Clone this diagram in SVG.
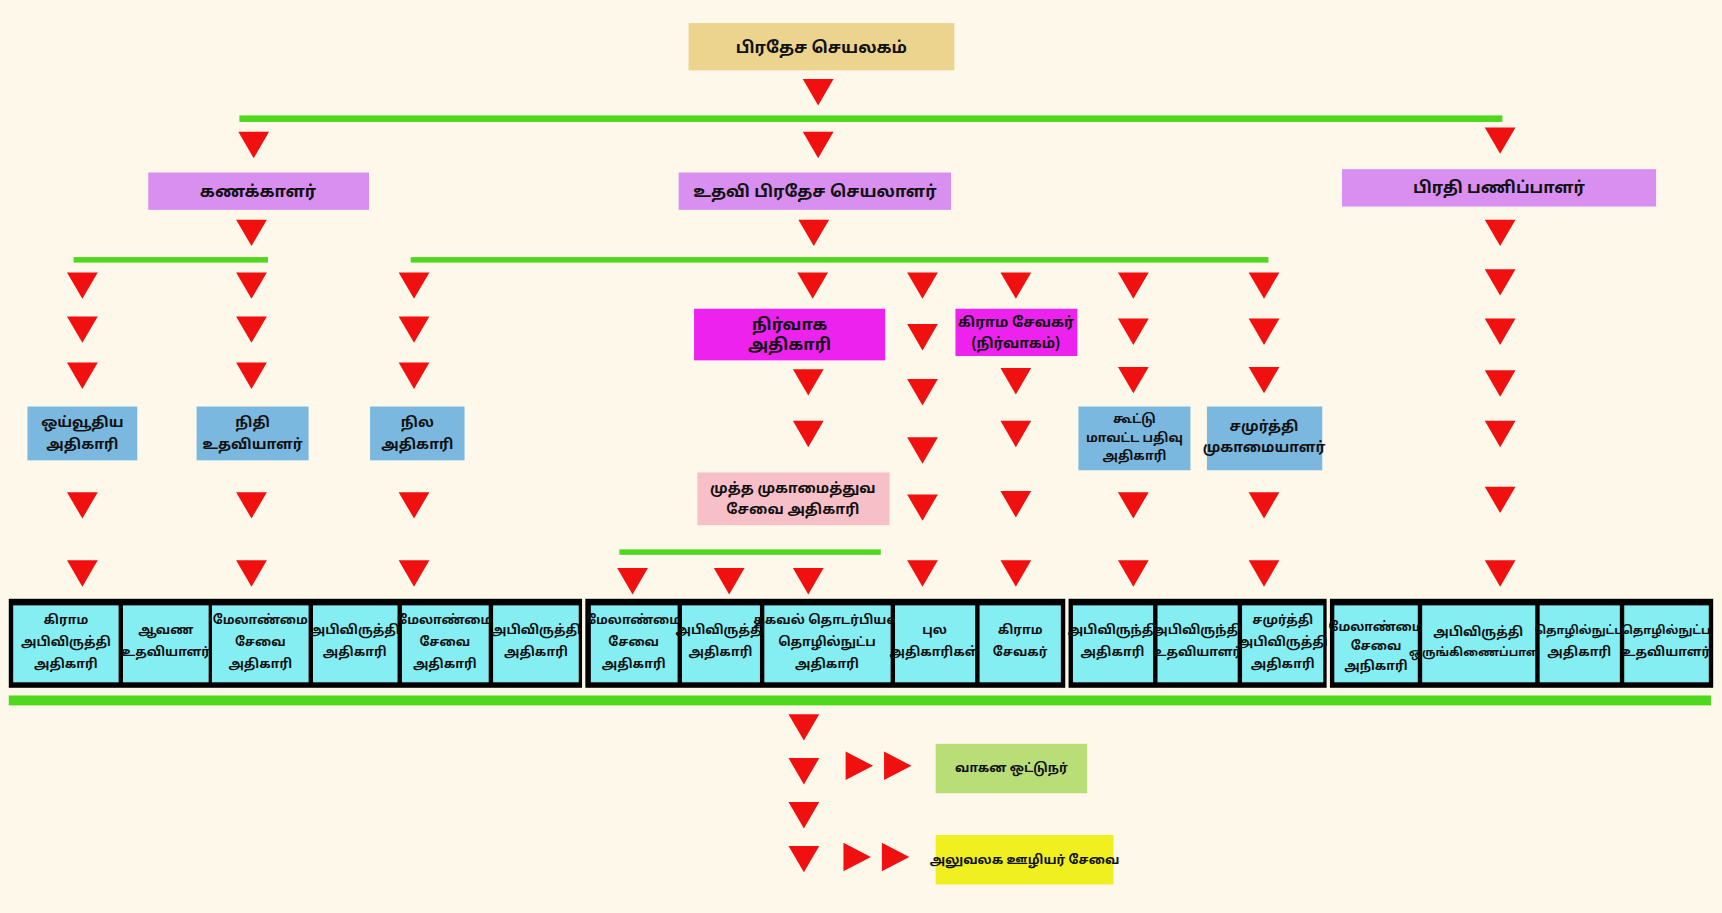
<svg xmlns="http://www.w3.org/2000/svg" xmlns:xlink="http://www.w3.org/1999/xlink" width="1722" height="913" viewBox="0 0 1722 913">
<style>
.t{font-family:"Noto Sans Tamil","Noto Sans","Liberation Sans",sans-serif;font-weight:bold;fill:#111;text-anchor:middle}
.h{font-size:15px}.m{font-size:13px}.s{font-size:11.5px}.xs{font-size:10.5px}
.g{fill:#4fd81e}
.tri{fill:#f01010}
.cell{fill:#84eef2}
</style>
<defs>
<path id="d" class="tri" d="M-14,0 L14,0 L0,24 Z"/>
<path id="r" class="tri" d="M0,-13 L0,13 L25,0 Z"/>
</defs>
<rect width="1722" height="913" fill="#fdf8ea"/>
<g transform="scale(1.0982,1.0987)">
<g id="connectors">
<rect class="g" x="218" y="105" width="1150" height="6"/>
<rect class="g" x="67" y="234" width="177" height="5"/>
<rect class="g" x="374" y="234" width="781" height="5"/>
<rect class="g" x="564" y="500" width="238" height="5"/>
<rect class="g" x="8" y="633" width="1550" height="9"/>
<use href="#d" x="745" y="72"/>
<use href="#d" x="231" y="120"/><use href="#d" x="745" y="120"/><use href="#d" x="1366" y="116"/>
<use href="#d" x="229" y="200"/><use href="#d" x="741" y="200"/>
<use href="#d" x="75" y="248"/><use href="#d" x="75" y="288"/><use href="#d" x="75" y="330"/><use href="#d" x="75" y="448"/><use href="#d" x="75" y="510"/>
<use href="#d" x="229" y="248"/><use href="#d" x="229" y="288"/><use href="#d" x="229" y="330"/><use href="#d" x="229" y="448"/><use href="#d" x="229" y="510"/>
<use href="#d" x="377" y="248"/><use href="#d" x="377" y="288"/><use href="#d" x="377" y="330"/><use href="#d" x="377" y="448"/><use href="#d" x="377" y="510"/>
<use href="#d" x="740" y="248"/><use href="#d" x="736" y="336"/><use href="#d" x="736" y="383"/>
<use href="#d" x="576" y="517"/><use href="#d" x="664" y="517"/><use href="#d" x="736" y="517"/>
<use href="#d" x="840" y="248"/><use href="#d" x="840" y="295"/><use href="#d" x="840" y="345"/><use href="#d" x="840" y="398"/><use href="#d" x="840" y="450"/><use href="#d" x="840" y="510"/>
<use href="#d" x="925" y="248"/><use href="#d" x="925" y="335"/><use href="#d" x="925" y="383"/><use href="#d" x="925" y="447"/><use href="#d" x="925" y="510"/>
<use href="#d" x="1032" y="248"/><use href="#d" x="1032" y="290"/><use href="#d" x="1032" y="334"/><use href="#d" x="1032" y="448"/><use href="#d" x="1032" y="510"/>
<use href="#d" x="1151" y="248"/><use href="#d" x="1151" y="290"/><use href="#d" x="1151" y="334"/><use href="#d" x="1151" y="448"/><use href="#d" x="1151" y="510"/>
<use href="#d" x="1366" y="200"/><use href="#d" x="1366" y="245"/><use href="#d" x="1366" y="290"/><use href="#d" x="1366" y="337"/><use href="#d" x="1366" y="383"/><use href="#d" x="1366" y="443"/><use href="#d" x="1366" y="510"/>
<use href="#d" x="732" y="650"/><use href="#d" x="732" y="690"/><use href="#d" x="732" y="730"/><use href="#d" x="732" y="770"/>
<use href="#r" x="770" y="697"/><use href="#r" x="805" y="697"/>
<use href="#r" x="768" y="780"/><use href="#r" x="803" y="780"/>
</g>
<g id="n-top"><rect x="627" y="21" width="242" height="43" fill="#ecd48f"/><text class="t h" x="748" y="48">பிரதேச செயலகம்</text></g>
<g id="n-acc"><rect x="135" y="157" width="201" height="34" fill="#d98ff0"/><text class="t h" x="235" y="179">கணக்காளர்</text></g>
<g id="n-adsec"><rect x="618" y="157" width="248" height="34" fill="#d98ff0"/><text class="t h" x="742" y="179">உதவி பிரதேச செயலாளர்</text></g>
<g id="n-dd"><rect x="1222" y="154" width="286" height="34" fill="#d98ff0"/><text class="t h" x="1365" y="176">பிரதி பணிப்பாளர்</text></g>
<g id="n-pen"><rect x="25" y="370" width="100" height="49" fill="#7ab8df"/><text class="t m" x="75" y="389">ஒய்வூதிய</text><text class="t m" x="75" y="409">அதிகாரி</text></g>
<g id="n-fin"><rect x="179" y="370" width="102" height="49" fill="#7ab8df"/><text class="t m" x="230" y="389">நிதி</text><text class="t m" x="230" y="409">உதவியாளர்</text></g>
<g id="n-land"><rect x="337" y="370" width="86" height="49" fill="#7ab8df"/><text class="t m" x="380" y="389">நில</text><text class="t m" x="380" y="409">அதிகாரி</text></g>
<g id="n-admin"><rect x="632" y="281" width="174" height="47" fill="#ee22ee"/><text class="t h" x="719" y="300">நிர்வாக</text><text class="t h" x="719" y="319">அதிகாரி</text></g>
<g id="n-gs"><rect x="870" y="281" width="111" height="43" fill="#ee22ee"/><text class="t m" x="925" y="298">கிராம சேவகர்</text><text class="t m" x="925" y="317">(நிர்வாகம்)</text></g>
<g id="n-senior"><rect x="635" y="430" width="175" height="48" fill="#f7c0c8"/><text class="t m" x="722" y="449">முத்த முகாமைத்துவ</text><text class="t m" x="722" y="468">சேவை அதிகாரி</text></g>
<g id="n-reg"><rect x="982" y="370" width="102" height="58" fill="#7ab8df"/><text class="t s" x="1033" y="385">கூட்டு</text><text class="t s" x="1033" y="402">மாவட்ட பதிவு</text><text class="t s" x="1033" y="419">அதிகாரி</text></g>
<g id="n-samm"><rect x="1099" y="370" width="105" height="58" fill="#7ab8df"/><text class="t m" x="1151" y="392">சமுர்த்தி</text><text class="t m" x="1151" y="411">முகாமையாளர்</text></g>
<g id="row">
<rect x="8" y="545" width="522" height="81" fill="#000"/>
<rect x="533" y="545" width="437" height="81" fill="#000"/>
<rect x="973" y="545" width="235" height="81" fill="#000"/>
<rect x="1211" y="545" width="349" height="81" fill="#000"/>
<g id="c1"><rect class="cell" x="12" y="551" width="96" height="70"/><text class="t s" x="60" y="568">கிராம</text><text class="t s" x="60" y="588">அபிவிருத்தி</text><text class="t s" x="60" y="608">அதிகாரி</text></g>
<g id="c2"><rect class="cell" x="112" y="551" width="78" height="70"/><text class="t s" x="151" y="577">ஆவண</text><text class="t s" x="151" y="597">உதவியாளர்</text></g>
<g id="c3"><rect class="cell" x="193" y="551" width="88" height="70"/><text class="t s" x="237" y="568">மேலாண்மை</text><text class="t s" x="237" y="588">சேவை</text><text class="t s" x="237" y="608">அதிகாரி</text></g>
<g id="c4"><rect class="cell" x="285" y="551" width="77" height="70"/><text class="t s" x="323" y="577">அபிவிருத்தி</text><text class="t s" x="323" y="597">அதிகாரி</text></g>
<g id="c5"><rect class="cell" x="366" y="551" width="79" height="70"/><text class="t s" x="405" y="568">மேலாண்மை</text><text class="t s" x="405" y="588">சேவை</text><text class="t s" x="405" y="608">அதிகாரி</text></g>
<g id="c6"><rect class="cell" x="449" y="551" width="78" height="70"/><text class="t s" x="488" y="577">அபிவிருத்தி</text><text class="t s" x="488" y="597">அதிகாரி</text></g>
<g id="c7"><rect class="cell" x="538" y="551" width="79" height="70"/><text class="t s" x="577" y="568">மேலாண்மை</text><text class="t s" x="577" y="588">சேவை</text><text class="t s" x="577" y="608">அதிகாரி</text></g>
<g id="c8"><rect class="cell" x="621" y="551" width="71" height="70"/><text class="t s" x="656" y="577">அபிவிருத்தி</text><text class="t s" x="656" y="597">அதிகாரி</text></g>
<g id="c9"><rect class="cell" x="696" y="551" width="115" height="70"/><text class="t s" x="753" y="568">தகவல் தொடர்பியல்</text><text class="t s" x="753" y="588">தொழில்நுட்ப</text><text class="t s" x="753" y="608">அதிகாரி</text></g>
<g id="c10"><rect class="cell" x="815" y="551" width="73" height="70"/><text class="t s" x="851" y="577">புல</text><text class="t s" x="851" y="597">அதிகாரிகள்</text></g>
<g id="c11"><rect class="cell" x="892" y="551" width="74" height="70"/><text class="t s" x="929" y="577">கிராம</text><text class="t s" x="929" y="597">சேவகர்</text></g>
<g id="c12"><rect class="cell" x="977" y="551" width="73" height="70"/><text class="t s" x="1013" y="577">அபிவிருந்தி</text><text class="t s" x="1013" y="597">அதிகாரி</text></g>
<g id="c13"><rect class="cell" x="1054" y="551" width="73" height="70"/><text class="t s" x="1090" y="577">அபிவிருந்தி</text><text class="t s" x="1090" y="597">உதவியாளர்</text></g>
<g id="c14"><rect class="cell" x="1131" y="551" width="74" height="70"/><text class="t s" x="1168" y="568">சமுர்த்தி</text><text class="t s" x="1168" y="588">அபிவிருத்தி</text><text class="t s" x="1168" y="608">அதிகாரி</text></g>
<g id="c15"><rect class="cell" x="1215" y="551" width="76" height="70"/><text class="t s" x="1253" y="574">மேலாண்மை</text><text class="t s" x="1253" y="592">சேவை</text><text class="t s" x="1253" y="610">அநிகாரி</text></g>
<g id="c16"><rect class="cell" x="1295" y="551" width="103" height="70"/><text class="t s" x="1346" y="579">அபிவிருத்தி</text><text class="t xs" x="1346" y="597">ஒருங்கிணைப்பாளர்</text></g>
<g id="c17"><rect class="cell" x="1402" y="551" width="73" height="70"/><text class="t xs" x="1438" y="577">தொழில்நுட்ப</text><text class="t s" x="1438" y="597">அதிகாரி</text></g>
<g id="c18"><rect class="cell" x="1479" y="551" width="77" height="70"/><text class="t xs" x="1517" y="577">தொழில்நுட்ப</text><text class="t s" x="1517" y="597">உதவியாளர்</text></g>
</g>
<g id="n-driver"><rect x="852" y="677" width="138" height="45" fill="#b9dd77"/><text class="t s" x="921" y="703">வாகன ஒட்டுநர்</text></g>
<g id="n-office"><rect x="852" y="760" width="162" height="45" fill="#f0f020"/><text class="t s" x="933" y="786">அலுவலக ஊழியர் சேவை</text></g>
</g>
</svg>
